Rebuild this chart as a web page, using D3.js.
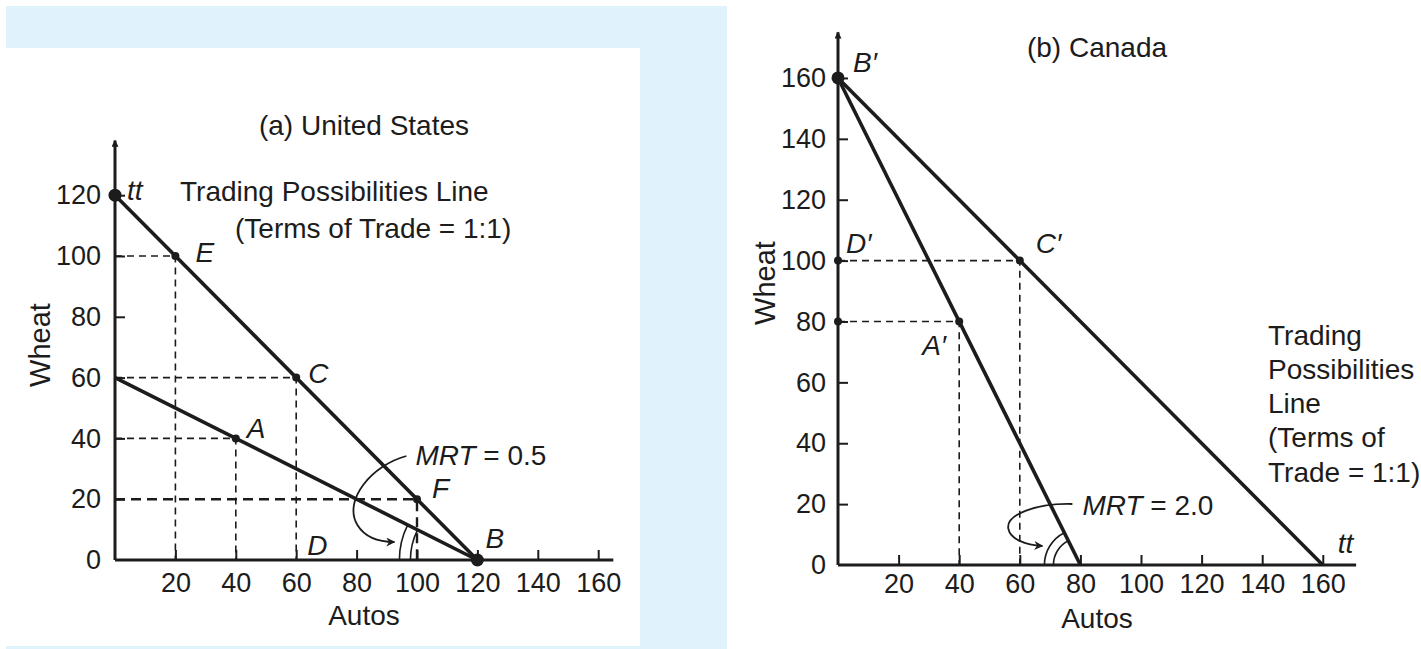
<!DOCTYPE html>
<html>
<head>
<meta charset="utf-8">
<script src="https://cdn.jsdelivr.net/npm/d3@7"></script>
<style>
html, body { margin: 0; padding: 0; background: #fff; }
svg { display: block; }
text { font-family: "Liberation Sans", Arial, Helvetica, sans-serif; fill: #1c1c1c; }
</style>
</head>
<body>
<svg id="chart" width="1421" height="649"></svg>
<script>
// ---- data: (a) United States ----
var usTitle = "(a) United States";
var usXTicks = [20, 40, 60, 80, 100, 120, 140, 160];
var usYTicks = [0, 20, 40, 60, 80, 100, 120];
var usTradeLine = [[0, 120], [120, 0]];
var usProdLine = [[0, 60], [120, 0]];
var usEnds = [[0, 120], [120, 0]];
var usPoints = [
    {id: "E", x: 20, y: 100},
    {id: "C", x: 60, y: 60},
    {id: "A", x: 40, y: 40},
    {id: "F", x: 100, y: 20}
];
var usLabels = [
    {text: "tt", x: 0, y: 120},
    {text: "E", x: 20, y: 100},
    {text: "C", x: 60, y: 60},
    {text: "A", x: 40, y: 40},
    {text: "F", x: 100, y: 20},
    {text: "D", x: 60, y: 0},
    {text: "B", x: 120, y: 0}
];
var usNote = ["Trading Possibilities Line", "(Terms of Trade = 1:1)"];
var usMrt = "0.5";

// ---- data: (b) Canada ----
var caTitle = "(b) Canada";
var caXTicks = [20, 40, 60, 80, 100, 120, 140, 160];
var caYTicks = [0, 20, 40, 60, 80, 100, 120, 140, 160];
var caTradeLine = [[0, 160], [160, 0]];
var caProdLine = [[0, 160], [80, 0]];
var caEnds = [[0, 160]];
var caAxisDots = [[0, 100], [0, 80]];
var caPoints = [
    {id: "C\u2032", x: 60, y: 100},
    {id: "A\u2032", x: 40, y: 80}
];
var caLabels = [
    {text: "B\u2032", x: 0, y: 160},
    {text: "D\u2032", x: 0, y: 100},
    {text: "C\u2032", x: 60, y: 100},
    {text: "A\u2032", x: 40, y: 80},
    {text: "tt", x: 160, y: 0}
];
var caNote = ["Trading", "Possibilities", "Line", "(Terms of", "Trade = 1:1)"];
var caMrt = "2.0";

// ---- layout (pixels) ----
var INK = "#1c1c1c";
var usOff = {"tt": [12, 5], "E": [20, 6], "C": [12, 5], "A": [11, 0], "F": [15, -1], "D": [11, -5], "B": [8, -12]};
var caOff = {"B\u2032": [15, -6], "D\u2032": [8, -8], "C\u2032": [16, -8], "A\u2032": [-37, 34], "tt": [15, -12]};

var svg = d3.select("#chart");

// background panels
svg.append("rect").attr("x", 6).attr("y", 6).attr("width", 721).attr("height", 643).attr("fill", "#e0f2fc");
svg.append("rect").attr("x", 6).attr("y", 48).attr("width", 634).attr("height", 598).attr("fill", "#fff");

var defs = svg.append("defs");
defs.append("marker").attr("id", "axisArrow")
    .attr("viewBox", "0 0 10 10").attr("refX", 9).attr("refY", 5)
    .attr("markerWidth", 10).attr("markerHeight", 7).attr("markerUnits", "userSpaceOnUse")
    .attr("orient", "auto")
    .append("path").attr("d", "M0,0 L10,5 L0,10 z").attr("fill", INK);
defs.append("marker").attr("id", "curveArrow")
    .attr("viewBox", "0 0 10 10").attr("refX", 9).attr("refY", 5)
    .attr("markerWidth", 14).attr("markerHeight", 9).attr("markerUnits", "userSpaceOnUse")
    .attr("orient", "auto")
    .append("path").attr("d", "M0,0 L10,5 L0,10 L3,5 z").attr("fill", INK);

function panel(cfg)
{
    var x = d3.scaleLinear().domain([0, 160]).range(cfg.xRange);
    var y = d3.scaleLinear().domain([0, 160]).range(cfg.yRange);
    var g = svg.append("g");
    var line = d3.line().x(function(d) { return x(d[0]); }).y(function(d) { return y(d[1]); });

    // axes: ticks and labels via d3, plain lines for the spines
    var ay = g.append("g").attr("transform", "translate(" + x(0) + ",0)")
        .call(d3.axisLeft(y).tickValues(cfg.yTicks).tickSize(-10).tickPadding(cfg.yPad).tickFormat(d3.format("d")));
    var ax = g.append("g").attr("transform", "translate(0," + y(0) + ")")
        .call(d3.axisBottom(x).tickValues(cfg.xTicks).tickSize(-10).tickPadding(cfg.xPad).tickFormat(d3.format("d")));
    [ax, ay].forEach(function(a) {
        a.select(".domain").remove();
        a.selectAll("line").attr("stroke", INK).attr("stroke-width", 2);
        a.selectAll("text").attr("font-size", 27).attr("font-family", null).attr("fill", INK);
    });
    ay.selectAll(".tick").filter(function(d) { return d === 0; }).select("line").remove();

    // guides
    cfg.points.forEach(function(p) {
        var heavy = p.id === cfg.heavy;
        g.append("path").attr("d", line([[0, p.y], [p.x, p.y], [p.x, 0]]))
            .attr("fill", "none").attr("stroke", INK)
            .attr("stroke-width", heavy ? 2.4 : 1.6)
            .attr("stroke-dasharray", heavy ? "10,6" : "7,5");
    });

    g.append("path").attr("d", line([[0, 0], [0, cfg.yTop]])).attr("stroke", INK)
        .attr("stroke-width", 3).attr("marker-end", "url(#axisArrow)");
    g.append("path").attr("d", line([[0, 0], [cfg.xEnd, 0]])).attr("stroke", INK).attr("stroke-width", 3);

    [cfg.trade, cfg.prod].forEach(function(l) {
        g.append("path").attr("d", line(l)).attr("fill", "none")
            .attr("stroke", INK).attr("stroke-width", 3.6);
    });

    // angle arcs at the production line's end on the x axis
    var c = cfg.prod[1];
    var cx = x(c[0]), cy = y(c[1]);
    var theta = Math.atan2(cy - y(cfg.prod[0][1]), cx - x(cfg.prod[0][0]));
    cfg.arcR.forEach(function(r) {
        var p = d3.path();
        p.arc(cx, cy, r, Math.PI, Math.PI + theta, false);
        g.append("path").attr("d", p.toString()).attr("fill", "none")
            .attr("stroke", INK).attr("stroke-width", 1.6);
    });
    var cp = cfg.curve.map(function(v) { return [cx + v[0], cy + v[1]]; });
    var cv = d3.path();
    cv.moveTo(cp[0][0], cp[0][1]);
    cv.bezierCurveTo(cp[1][0], cp[1][1], cp[2][0], cp[2][1], cp[3][0], cp[3][1]);
    cv.bezierCurveTo(cp[4][0], cp[4][1], cp[5][0], cp[5][1], cp[6][0], cp[6][1]);
    g.append("path").attr("d", cv.toString()).attr("fill", "none")
        .attr("stroke", INK).attr("stroke-width", 1.8).attr("marker-end", "url(#curveArrow)");
    var mt = g.append("text").attr("x", cx + cfg.mrtAt[0]).attr("y", cy + cfg.mrtAt[1]).attr("font-size", 28);
    mt.append("tspan").attr("font-style", "italic").text("MRT");
    mt.append("tspan").text(" = " + cfg.mrt);

    // dots
    g.selectAll(".big").data(cfg.ends).enter().append("circle")
        .attr("cx", function(d) { return x(d[0]); }).attr("cy", function(d) { return y(d[1]); })
        .attr("r", 6.5).attr("fill", INK);
    g.selectAll(".small").data(cfg.points.map(function(p) { return [p.x, p.y]; }).concat(cfg.axisDots))
        .enter().append("circle")
        .attr("cx", function(d) { return x(d[0]); }).attr("cy", function(d) { return y(d[1]); })
        .attr("r", 4).attr("fill", INK);

    // point labels
    cfg.labels.forEach(function(l) {
        var o = cfg.off[l.text];
        g.append("text").attr("x", x(l.x) + o[0]).attr("y", y(l.y) + o[1])
            .attr("font-size", 28).attr("font-style", "italic").text(l.text);
    });

    // titles and axis names
    g.append("text").attr("x", cfg.titleAt[0]).attr("y", cfg.titleAt[1])
        .attr("text-anchor", "middle").attr("font-size", 28).text(cfg.title);
    g.append("text").attr("x", cfg.autosAt[0]).attr("y", cfg.autosAt[1])
        .attr("text-anchor", "middle").attr("font-size", 28).text("Autos");
    g.append("text").attr("transform", "translate(" + cfg.wheatAt[0] + "," + cfg.wheatAt[1] + ") rotate(-90)")
        .attr("text-anchor", "middle").attr("font-size", 29).text("Wheat");

    cfg.note.forEach(function(s, i) {
        g.append("text").attr("x", cfg.noteAt[i][0]).attr("y", cfg.noteAt[i][1])
            .attr("font-size", 28).text(s);
    });
}

panel({
    xRange: [115, 115 + 160 * 3.02], yRange: [560, 560 - 160 * 3.04],
    xTicks: usXTicks, yTicks: usYTicks, xPad: 13, yPad: 14,
    yTop: 138, xEnd: 165,
    trade: usTradeLine, prod: usProdLine, ends: usEnds, axisDots: [],
    points: usPoints, heavy: "F", labels: usLabels, off: usOff,
    arcR: [78, 67],
    curve: [[-71, -104], [-105, -95], [-135, -60], [-120, -35], [-112, -22], [-98, -18], [-83, -18]],
    mrt: usMrt, mrtAt: [-62, -95],
    title: usTitle, titleAt: [364, 135], autosAt: [364, 625], wheatAt: [50, 345],
    note: usNote, noteAt: [[180, 201], [235, 238]]
});

panel({
    xRange: [838, 838 + 160 * 3.03], yRange: [565, 565 - 160 * 3.044],
    xTicks: caXTicks, yTicks: caYTicks, xPad: 9, yPad: 12,
    yTop: 175, xEnd: 171,
    trade: caTradeLine, prod: caProdLine, ends: caEnds, axisDots: caAxisDots,
    points: caPoints, heavy: null, labels: caLabels, off: caOff,
    arcR: [36, 27],
    curve: [[-8, -61], [-45, -62], [-75, -50], [-72, -36], [-70, -26], [-55, -20], [-38, -19]],
    mrt: caMrt, mrtAt: [2, -50],
    title: caTitle, titleAt: [1097, 57], autosAt: [1097, 628], wheatAt: [775, 283],
    note: caNote, noteAt: [[1268, 345], [1268, 379], [1268, 413], [1268, 447], [1268, 482]]
});
</script>
</body>
</html>
